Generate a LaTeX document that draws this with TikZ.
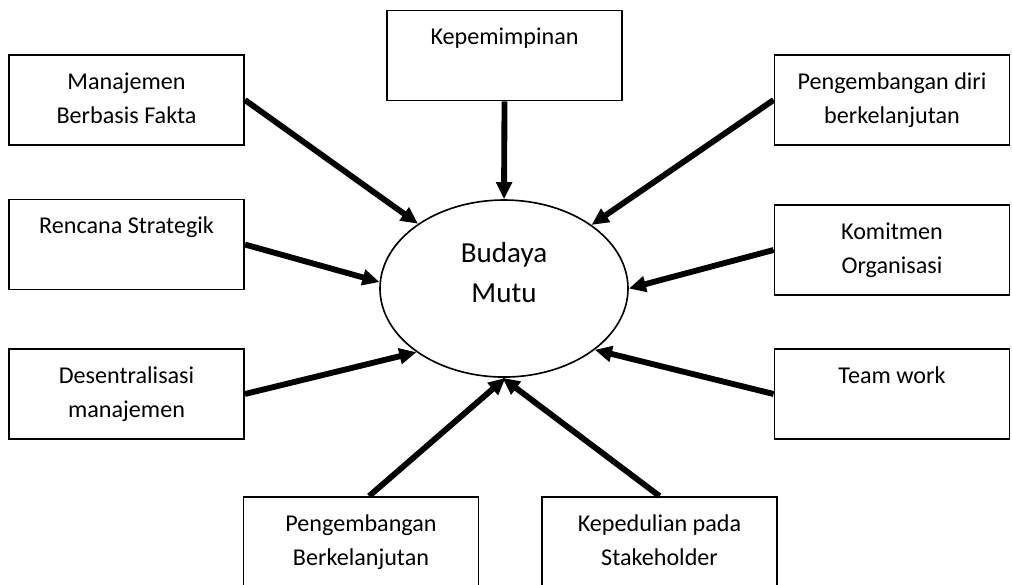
\documentclass[tikz,border=0pt]{standalone}
\usepackage{fontspec}
\setmainfont{Carlito}
\usepackage{tikz}
\usetikzlibrary{shapes,arrows.meta,positioning}

\begin{document}
\begin{tikzpicture}[
        box/.style={rectangle, draw=black, line width=0.8pt, text width=3.325cm, inner xsep=0.1cm, inner ysep=0pt, text height=14.6pt, text depth=23.8pt, align=flush center, font=\fontsize{10.3}{14.5}\selectfont},
        core/.style={ellipse, draw=black, line width=0.7pt, minimum width=3.72cm, minimum height=2.655cm, inner sep=0pt, text width=1.5cm, text height=0pt, text depth=22.2pt, align=flush center, font=\fontsize{12.4}{17}\selectfont},
        arrow/.style={-{Triangle[length=7.3pt,width=6.6pt]}, line width=2.5pt, black}
    ]
        \useasboundingbox (0,0) rectangle (15.18,-8.775);
        \clip (0,0) rectangle (15.18,-8.775);

        % Centre
        \node[core] (budaya) at (7.56,-4.328) {Budaya\\Mutu};

        % Boxes
        \node[box] (pimpin) at (7.568,-0.833) {Kepemimpinan};
        \node[box] (fakta) at (1.898,-1.5) {Manajemen\\Berbasis Fakta};
        \node[box] (strategi) at (1.898,-3.668) {Rencana Strategik};
        \node[box] (desentral) at (1.898,-5.91) {Desentralisasi\\manajemen};
        \node[box] (diri) at (13.38,-1.5) {Pengembangan diri\\berkelanjutan};
        \node[box] (komitmen) at (13.38,-3.75) {Komitmen\\Organisasi};
        \node[box] (team) at (13.38,-5.91) {Team work};
        \node[box] (berlanjut) at (5.415,-8.13) {Pengembangan\\Berkelanjutan};
        \node[box] (peduli) at (9.893,-8.13) {Kepedulian pada\\Stakeholder};

        % Arrows
        \draw[arrow] (pimpin.south) -- (budaya.north);
        \draw[arrow] (fakta.east) -- (budaya.143);
        \draw[arrow] (strategi.east) -- (budaya.177);
        \draw[arrow] (desentral.east) -- (budaya.216);
        \draw[arrow] (diri.west) -- (budaya.36);
        \draw[arrow] (komitmen.west) -- (budaya.0);
        \draw[arrow] (team.west) -- (budaya.326);
        \draw[arrow] (berlanjut.80) -- (budaya.271);
        \draw[arrow] (peduli.north) -- (budaya.269);
    \end{tikzpicture}
\end{document}
